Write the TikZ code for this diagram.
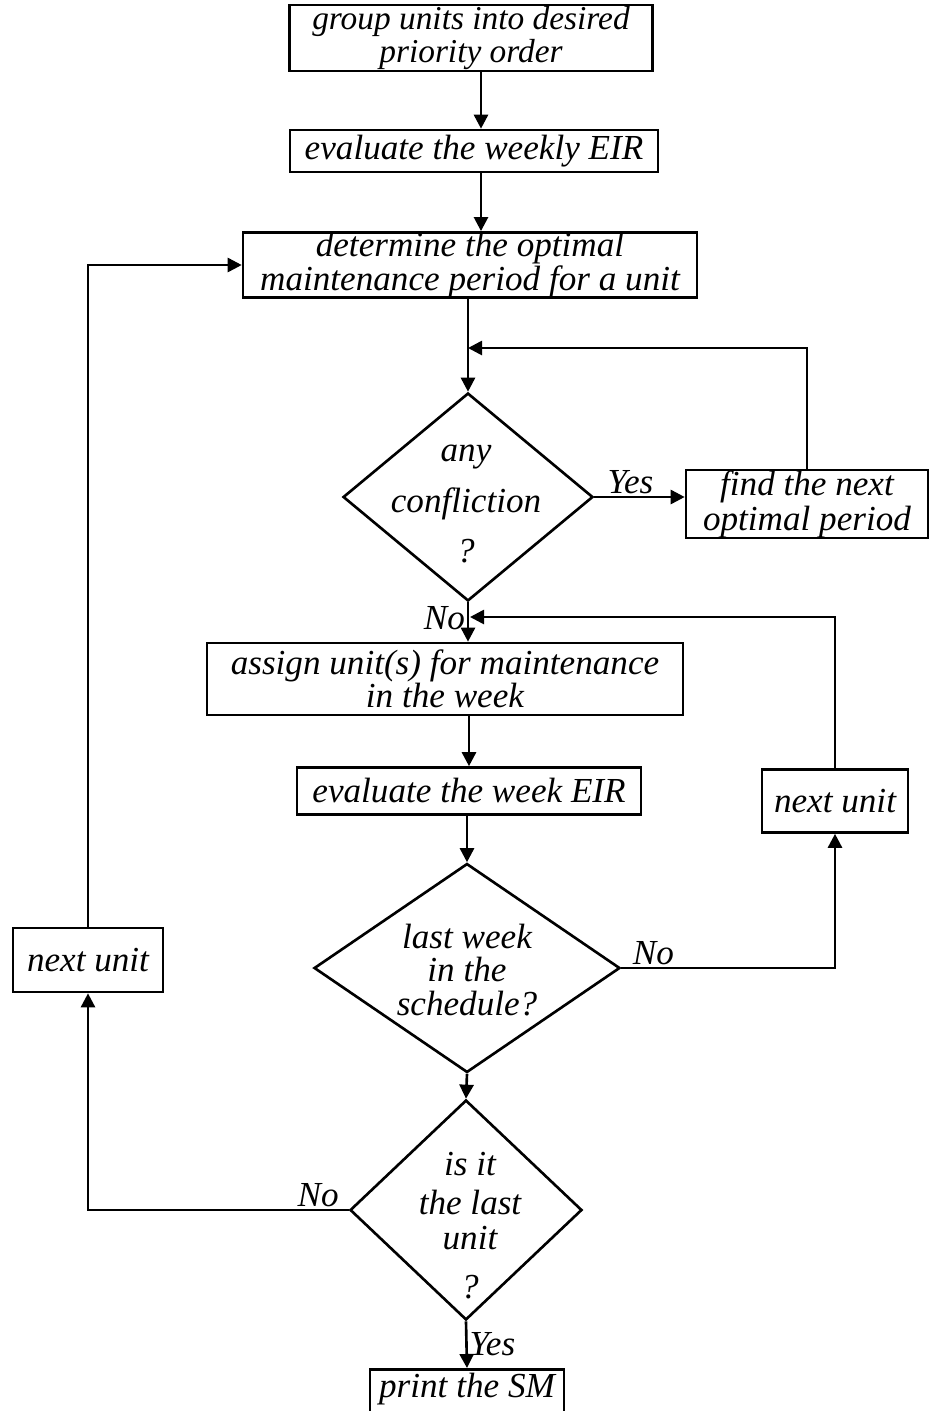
\documentclass[tikz,border=0pt]{standalone}
\usepackage{fontspec}
\setmainfont{Liberation Serif}
\usetikzlibrary{shapes.geometric, arrows.meta}
\begin{document}
\begin{tikzpicture}[x=0.02cm, y=-0.02cm, >={Triangle[length=8pt, width=8pt]}, line width=1.5pt,
    every node/.style={font=\fontsize{20}{20}\selectfont\itshape},
    box/.style={draw, align=center, inner sep=0pt},
    decision/.style={draw, diamond, inner sep=0pt},
    lbl/.style={align=center, inner sep=1pt}]
    \useasboundingbox (0,0) rectangle (930,1411);
    \node[box, minimum width=7.26cm, minimum height=1.32cm, font=\fontsize{19}{19}\selectfont\itshape] (group) at (471,38) {group units into desired\\[0pt] priority order};
    \node[box, minimum width=7.36cm, minimum height=0.84cm] (weekly) at (474,151) {evaluate the weekly EIR};
    \node[box, minimum width=9.08cm, minimum height=1.3cm] (optimal) at (470,265) {determine the optimal\\[-1pt] maintenance period for a unit};
    \node[decision, minimum width=5cm, minimum height=4.16cm] (confl) at (468,497) {};
    \node[lbl] (confltxt) at (466,504) {any\\[9pt] confliction\\[9pt] ?};
    \node[box, minimum width=4.84cm, minimum height=1.36cm] (findnext) at (807,504) {find the next\\[0pt] optimal period};
    \node[box, minimum width=9.52cm, minimum height=1.44cm] (assign) at (445,679) {assign unit(s) for maintenance\\[-1pt] in the week};
    \node[box, minimum width=6.88cm, minimum height=0.94cm] (week) at (469,791) {evaluate the week EIR};
    \node[box, minimum width=2.92cm, minimum height=1.26cm] (nextright) at (835,801) {next unit};
    \node[decision, minimum width=6.12cm, minimum height=4.18cm] (lastweek) at (467,968) {};
    \node[lbl] (lastweektxt) at (467,970) {last week\\[-1pt] in the\\[-1pt] schedule?};
    \node[decision, minimum width=4.64cm, minimum height=4.4cm] (lastunit) at (466,1210) {};
    \node[lbl] (lastunittxt) at (470,1226) {is it\\[2pt] the last\\[0pt] unit\\[8pt] ?};
    \node[box, minimum width=3cm, minimum height=1.28cm] (nextleft) at (88,960) {next unit};
    \node[box, anchor=north, minimum width=3.88cm, minimum height=1.2cm, text height=0.56cm, text depth=0.64cm] (print) at (467,1368) {print the SM};
    \coordinate (merge1) at (468,348);
    \coordinate (merge2) at (470,617);
    \draw[->] ([xshift=0.2cm]group.south) -- ([xshift=0.2cm]group.south |- weekly.north);
    \draw[->] ([xshift=0.14cm]weekly.south) -- ([xshift=0.14cm]weekly.south |- optimal.north);
    \draw[->] (confl.north |- optimal.south) -- (confl.north);
    \draw[->] (findnext.north) |- (merge1);
    \draw[->] (confl.east) -- (confl.east -| findnext.west) node[lbl, pos=0.4, above] (yes1) {Yes};
    \draw[->] (confl.south) -- (confl.south |- assign.north) node[lbl, pos=0.4, left] (no1) {No};
    \draw[->] (nextright.north) |- (merge2);
    \draw[->] (week.north |- assign.south) -- (week.north);
    \draw[->] (lastweek.north |- week.south) -- (lastweek.north);
    \draw[->] (lastweek.east) -| (nextright.south) node[lbl, pos=0.02, above right] (no2) {No};
    \draw[->] (lastweek.south) -- (lastunit.north);
    \draw[->] (lastunit.west) -| (nextleft.south) node[lbl, pos=0, above left, xshift=-4pt] (no3) {No};
    \draw[->] (nextleft.north) |- (optimal.west);
    \draw[->] (lastunit.south) -- (print.north) node[lbl, midway, right] (yes2) {Yes};
\end{tikzpicture}
\end{document}
